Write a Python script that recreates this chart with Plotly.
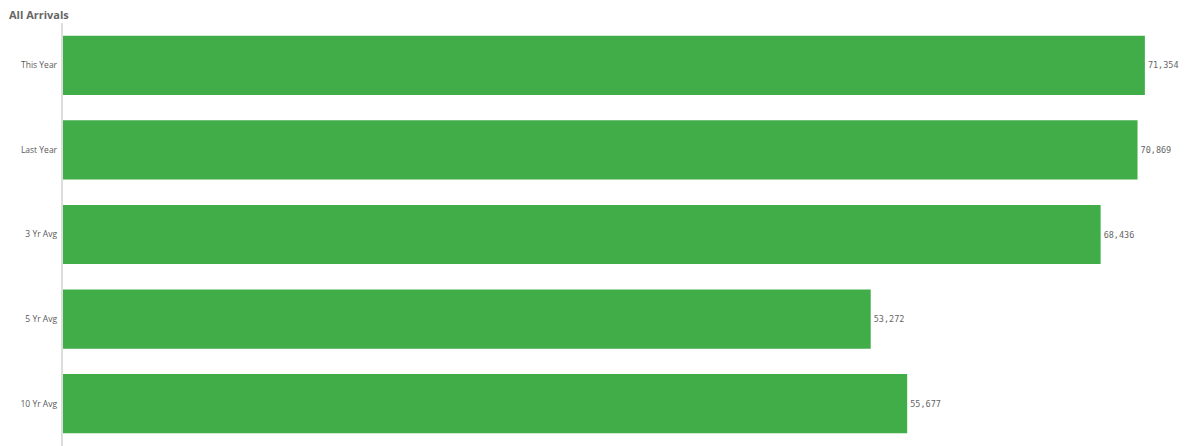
import plotly.graph_objects as go

categories = ["This Year", "Last Year", "3 Yr Avg", "5 Yr Avg", "10 Yr Avg"]
values = [71354, 70869, 68436, 53272, 55677]
value_labels = ["71,354", "70,869", "68,436", "53,272", "55,677"]

fig = go.Figure(go.Bar(
    x=values, y=categories, orientation="h",
    marker=dict(color="#41AD49", line=dict(width=0)),
    width=0.70,
    text=value_labels, textposition="outside",
    textfont=dict(family="DejaVu Sans Mono, monospace", size=8.5, color="#666666"),
    cliponaxis=False,
))

fig.update_layout(
    width=1192, height=438,
    margin=dict(l=55, r=15, t=15, b=0),
    plot_bgcolor="white", paper_bgcolor="white",
    showlegend=False,
    title=dict(text="<b>All Arrivals</b>", x=0.0, xanchor="left", y=1.0, yanchor="top",
               font=dict(family="Open Sans, sans-serif", size=11, color="#666666"),
               pad=dict(l=1, t=3)),
    xaxis=dict(range=[0, 74000], visible=False, showgrid=False, zeroline=False),
    yaxis=dict(autorange="reversed", showgrid=False, zeroline=False,
               showline=True, linecolor="#dddddd", linewidth=2,
               ticks="", ticklen=0,
               tickfont=dict(family="Open Sans, sans-serif", size=8.5, color="#595959"),
               ticksuffix=" "),
)

fig.write_html("out.html")
